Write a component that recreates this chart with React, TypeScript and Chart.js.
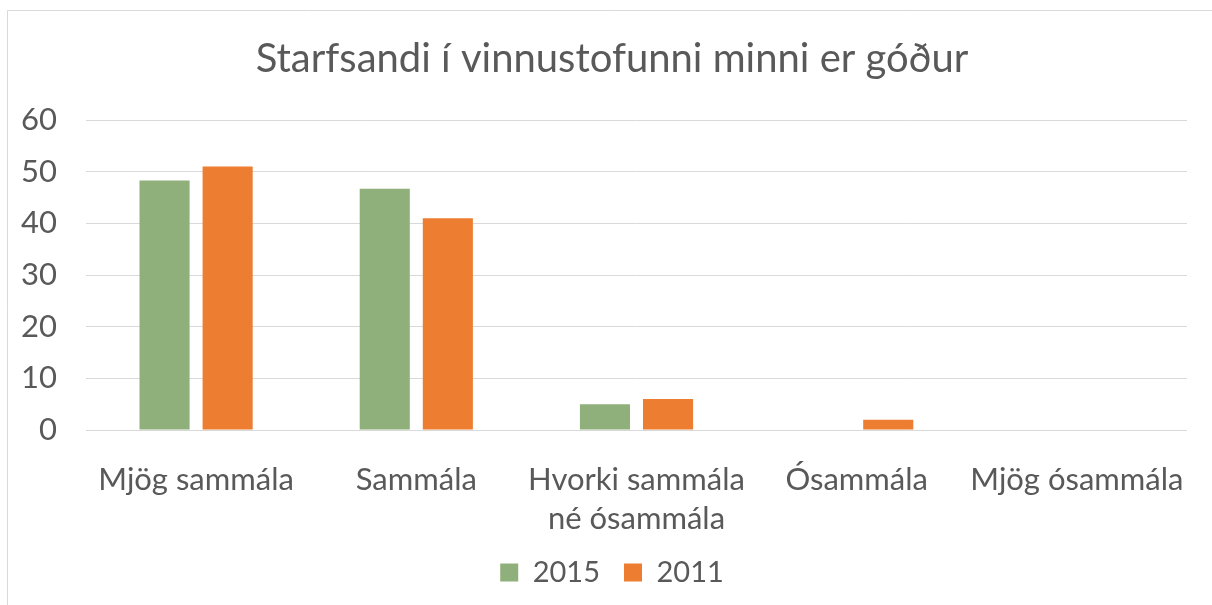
import React, { useEffect, useRef } from "react";
import { Chart, registerables } from "chart.js";

Chart.register(...registerables);

const TITLE = "Starfsandi í vinnustofunni minni er góður";
const CATEGORIES: (string | string[])[] = [
  "Mjög sammála",
  "Sammála",
  ["Hvorki sammála", "né ósammála"],
  "Ósammála",
  "Mjög ósammála",
];
const SERIES_NAMES = ["2015", "2011"];
const VALUES_2015 = [48.3, 46.7, 5.0, 0, 0];
const VALUES_2011 = [51.0, 41.0, 6.0, 2.0, 0];
const Y_MIN = 0;
const Y_MAX = 60;
const Y_STEP = 10;

const GREEN = "#8FB07A";
const ORANGE = "#ED7D31";
const TEXT = "#595959";
const GRID = "#d9d9d9";
const FONT = "Lato, 'Open Sans', sans-serif";

const frame = {
  id: "frame",
  beforeDraw(chart: any) {
    const ctx = chart.ctx;
    ctx.save();
    ctx.fillStyle = "#ffffff";
    ctx.fillRect(0, 0, chart.width, chart.height);
    ctx.strokeStyle = GRID;
    ctx.lineWidth = 1;
    ctx.beginPath();
    ctx.moveTo(7.5, chart.height);
    ctx.lineTo(7.5, 10.5);
    ctx.lineTo(chart.width, 10.5);
    ctx.stroke();
    ctx.restore();
  },
};

export default function App() {
  const ref = useRef<HTMLCanvasElement | null>(null);

  useEffect(() => {
    let chart: Chart | null = null;
    let cancelled = false;
    const make = () => {
      if (cancelled || !ref.current) return;
      chart = new Chart(ref.current, {
        type: "bar",
        data: {
          labels: CATEGORIES,
          datasets: [
            {
              label: SERIES_NAMES[0],
              data: VALUES_2015,
              backgroundColor: GREEN,
              categoryPercentage: 0.573,
              barPercentage: 0.794,
            },
            {
              label: SERIES_NAMES[1],
              data: VALUES_2011,
              backgroundColor: ORANGE,
              categoryPercentage: 0.573,
              barPercentage: 0.794,
            },
          ],
        },
        options: {
          animation: false,
          responsive: false,
          maintainAspectRatio: false,
          layout: { padding: { left: 12, right: 0, top: 0, bottom: 8 } },
          plugins: {
            title: {
              display: true,
              text: TITLE,
              color: TEXT,
              font: { family: FONT, size: 40, weight: "normal", lineHeight: 1.2 },
              padding: { top: 35, bottom: 37 },
            },
            legend: {
              display: true,
              position: "bottom",
              labels: {
                color: TEXT,
                font: { family: FONT, size: 29 },
                boxWidth: 18,
                boxHeight: 18,
                padding: 24,
              },
            },
            tooltip: { enabled: false },
          },
          scales: {
            x: {
              grid: { display: false },
              border: { display: false },
              ticks: {
                color: TEXT,
                font: { family: FONT, size: 31, lineHeight: 1.24 },
                padding: 23,
                maxRotation: 0,
                autoSkip: false,
              },
              afterFit(scale: any) {
                scale.height = 104;
              },
            },
            y: {
              min: Y_MIN,
              max: Y_MAX,
              grid: { color: GRID, lineWidth: 1, drawTicks: false },
              border: { display: false },
              ticks: {
                stepSize: Y_STEP,
                color: TEXT,
                font: { family: FONT, size: 31 },
                padding: 29,
              },
              afterFit(scale: any) {
                scale.width = 74;
              },
            },
            y2: {
              position: "right",
              min: Y_MIN,
              max: Y_MAX,
              display: true,
              grid: { display: false, drawTicks: false },
              border: { display: false },
              ticks: { display: false },
              afterFit(scale: any) {
                scale.width = 25;
              },
            },
          },
        },
        plugins: [frame],
      } as any);
    };
    const fonts: any = (document as any).fonts;
    if (fonts && fonts.load) {
      Promise.all([fonts.load("31px Lato"), fonts.load("40px Lato")])
        .catch(() => {})
        .then(make);
    } else {
      make();
    }
    return () => {
      cancelled = true;
      if (chart) chart.destroy();
    };
  }, []);

  return (
    <div
      style={{
        position: "fixed",
        left: 0,
        top: 0,
        width: 1212,
        height: 605,
        background: "#fff",
        overflow: "hidden",
      }}
    >
      <canvas ref={ref} width={1212} height={605} style={{ width: 1212, height: 605, display: "block" }} />
    </div>
  );
}
